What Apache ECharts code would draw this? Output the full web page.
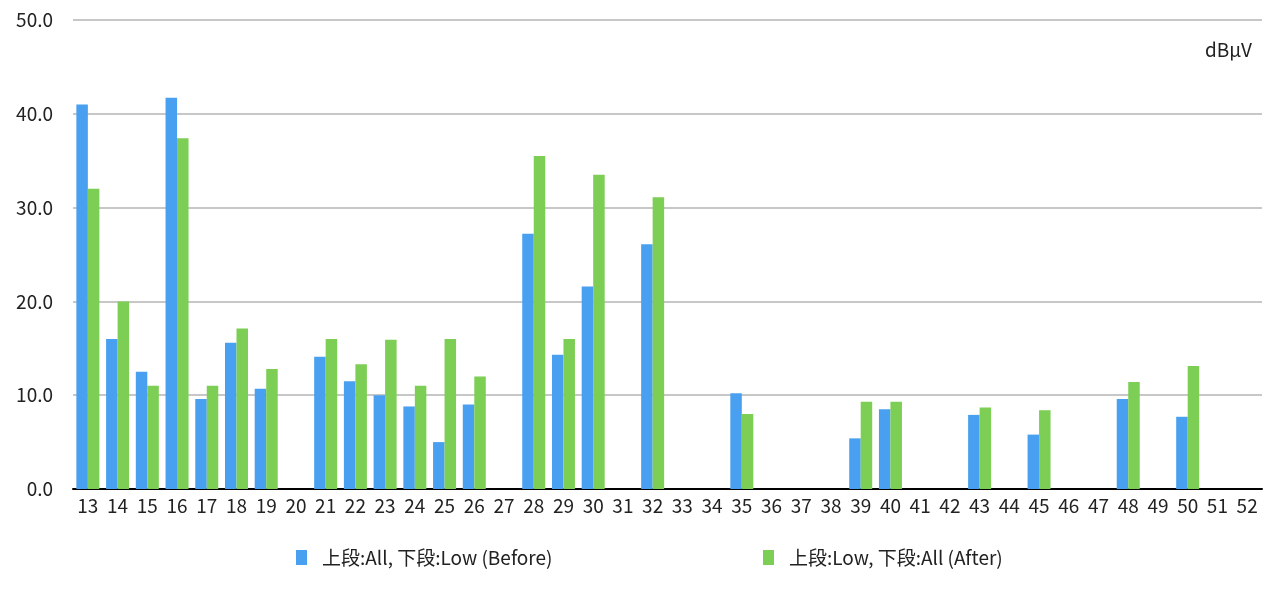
<!DOCTYPE html>
<html>
<head>
<meta charset="utf-8">
<script src="https://cdn.jsdelivr.net/npm/echarts@6/dist/echarts.min.js"></script>
<style>html,body{margin:0;padding:0;background:#fff;}#c{width:1280px;height:591px;}</style>
</head>
<body>
<div id="c"></div>
<script>
var categories = ['13','14','15','16','17','18','19','20','21','22','23','24','25','26','27','28','29','30','31','32','33','34','35','36','37','38','39','40','41','42','43','44','45','46','47','48','49','50','51','52'];
var seriesNames = ['上段:All, 下段:Low (Before)', '上段:Low, 下段:All (After)'];
var beforeValues = [41.0,16.0,12.5,41.7,9.6,15.6,10.7,null,14.1,11.5,10.0,8.8,5.0,9.0,null,27.2,14.3,21.6,null,26.1,null,null,10.2,null,null,null,5.4,8.5,null,null,7.9,null,5.8,null,null,9.6,null,7.7,null,null];
var afterValues = [32.0,20.0,11.0,37.4,11.0,17.1,12.8,null,16.0,13.3,15.9,11.0,16.0,12.0,null,35.5,16.0,33.5,null,31.1,null,null,8.0,null,null,null,9.3,9.3,null,null,8.7,null,8.4,null,null,11.4,null,13.1,null,null];
var unitLabel = 'dBμV';

var FONT = '"Noto Sans CJK JP", "Noto Sans", sans-serif';
var chart = echarts.init(document.getElementById('c'));
chart.setOption({
  animation: false,
  backgroundColor: '#ffffff',
  color: ['#49A0F0', '#7DCE55'],
  textStyle: { fontFamily: FONT },
  title: {
    text: unitLabel, right: 28, top: 40, padding: 0,
    textStyle: { fontSize: 19, fontWeight: 'normal', color: '#222', fontFamily: FONT }
  },
  legend: [
    { data: [seriesNames[0]], left: 296, top: 548, padding: 0, itemWidth: 11, itemHeight: 15, icon: 'rect',
      textStyle: { fontSize: 19, color: '#222', fontFamily: FONT, padding: [0, 0, 0, 10] } },
    { data: [seriesNames[1]], left: 763, top: 548, padding: 0, itemWidth: 11, itemHeight: 15, icon: 'rect',
      textStyle: { fontSize: 19, color: '#222', fontFamily: FONT, padding: [0, 0, 0, 10] } }
  ],
  grid: { left: 73, right: 18, top: 20, bottom: 102, containLabel: false },
  xAxis: {
    type: 'category', data: categories,
    axisLine: { lineStyle: { color: '#000', width: 2 } },
    axisTick: { show: false },
    axisLabel: { interval: 0, fontSize: 19, color: '#222', margin: 7, fontFamily: FONT }
  },
  yAxis: {
    type: 'value', min: 0, max: 50, interval: 10,
    axisLine: { show: false }, axisTick: { show: false },
    splitLine: { lineStyle: { color: '#b4b4b4', width: 1.5 } },
    axisLabel: { fontSize: 19, color: '#222', margin: 20, fontFamily: FONT,
      formatter: function (v) { return v.toFixed(1); } }
  },
  series: [
    { name: seriesNames[0], type: 'bar', data: beforeValues, barWidth: 11.5, barGap: '0%' },
    { name: seriesNames[1], type: 'bar', data: afterValues, barWidth: 11.5, barGap: '0%' }
  ]
});
</script>
</body>
</html>
